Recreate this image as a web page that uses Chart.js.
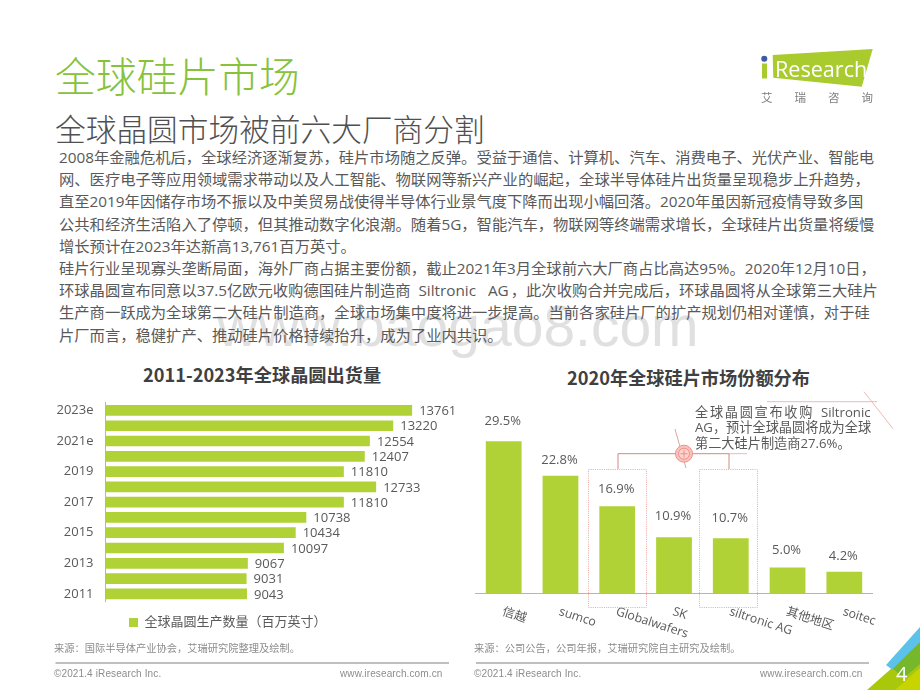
<!DOCTYPE html>
<html>
<head>
<meta charset="utf-8">
<title>全球硅片市场</title>
<script src="https://cdn.jsdelivr.net/npm/chart.js@4"></script>
<style>
  html, body { margin: 0; padding: 0; background: #fff; }
  body { width: 920px; height: 690px; position: relative; overflow: hidden;
         font-family: "Open Sans", "Noto Sans CJK SC", sans-serif; }
  .t { position: absolute; white-space: pre; }
  canvas, svg { position: absolute; }
  .foot { font: 10px "Liberation Sans", sans-serif; color: #8c8c8c; letter-spacing: .12px; top: 668px; }
  .src { font-size: 10.25px; color: #8c8c8c; top: 641px; line-height: 15px; }
  .ctitle { font: bold 18.2px "Noto Sans CJK SC", sans-serif; color: #404040; line-height: 24px; }
</style>
</head>
<body>
<div class="t" style="left:217px;top:281px;font:57px 'Liberation Sans',sans-serif;color:#e0e0e0;line-height:90px">www.baogao8.com</div>

<div class="t" style="left:55px;top:47px;font:300 40.8px/56px 'Noto Sans CJK SC',sans-serif;color:#86c23a">全球硅片市场</div>
<div class="t" style="left:55px;top:106px;font:300 30.7px/44px 'Noto Sans CJK SC',sans-serif;color:#505050">全球晶圆市场被前六大厂商分割</div>

<div class="t" style="left:59px;top:146px;font-size:15.3px;line-height:22.2px;color:#595959">2008年金融危机后，全球经济逐渐复苏，硅片市场随之反弹。受益于通信、计算机、汽车、消费电子、光伏产业、智能电
网、医疗电子等应用领域需求带动以及人工智能、物联网等新兴产业的崛起，全球半导体硅片出货量呈现稳步上升趋势，
直至2019年因储存市场不振以及中美贸易战使得半导体行业景气度下降而出现小幅回落。2020年虽因新冠疫情导致多国
公共和经济生活陷入了停顿，但其推动数字化浪潮。随着5G，智能汽车，物联网等终端需求增长，全球硅片出货量将缓慢
增长预计在2023年达新高13,761百万英寸。
硅片行业呈现寡头垄断局面，海外厂商占据主要份额，截止2021年3月全球前六大厂商占比高达95%。2020年12月10日，
环球晶圆宣布同意以37.5亿欧元收购德国硅片制造商  Siltronic   AG<span style="margin-right:2px"></span>，此次收购合并完成后，环球晶圆将从全球第三大硅片
生产商一跃成为全球第二大硅片制造商，全球市场集中度将进一步提高。当前各家硅片厂的扩产规划仍相对谨慎，对于硅
片厂而言，稳健扩产、推动硅片价格持续抬升，成为了业内共识。</div>

<div class="t ctitle" style="left:143px;top:362px">2011-2023年全球晶圆出货量</div>
<div class="t ctitle" style="left:567px;top:365px">2020年全球硅片市场份额分布</div>

<canvas id="shipChart" width="458" height="256" style="left:0;top:383px"></canvas>
<canvas id="shareChart" width="440" height="260" style="left:460px;top:400px"></canvas>

<svg width="920" height="690" style="left:0;top:0">
  <!-- callout decoration -->
  <g fill="none" stroke="#f0b9b3" stroke-width="1">
    <path d="M767 401.7H877M864 391.7L893 428.7"/>
    <path d="M729 453.7H747"/>
    <g stroke="#eda8a0" stroke-dasharray="1 1.2">
      <rect x="588.5" y="469.5" width="58" height="138"/>
      <rect x="699.5" y="469.5" width="58" height="138"/>
    </g>
  </g>
  <path d="M618 469V453.7H729V469" fill="none" stroke="#d08a80" stroke-width="1"/>
  <path d="M675 429L686 468" fill="none" stroke="#d9a89f" stroke-width="1"/>
  <circle cx="684" cy="453.7" r="8.5" fill="#f9c4be" stroke="#ee9088" stroke-width="1"/>
  <circle cx="684" cy="453.7" r="5.5" fill="#fbd3cf" stroke="#ee9088" stroke-width="1"/>
  <path d="M680.5 453.7H687.5M684 450V457.5" stroke="#ee9088" stroke-width="1"/>

  <!-- footer rules -->
  <path d="M55.5 663H449M476 663H869" stroke="#ababab" stroke-width="1.3"/>

  <!-- corner -->
  <polygon points="867,690 892,668 920,640 920,690" fill="#a9c80c"/>
  <polygon points="892,668 920,640 920,664 904,678" fill="#76b82a"/>
  <polygon points="895,690 920,668 920,690" fill="#c8d400"/>
  <polygon points="886,665 920,627 920,642 892,669.5" fill="#5cc2ea"/>

  <!-- logo -->
  <polygon points="772.7,55 872.7,49 861.7,86.7 773.3,77.7" fill="#a9cb2d"/>
  <circle cx="764.3" cy="58.7" r="3" fill="#3b5ba5"/>
  <rect x="762" y="63.5" width="5" height="15" fill="#a9cb2d"/>
</svg>

<div class="t" style="left:775px;top:54px;font:21.6px/30px 'Open Sans',sans-serif;color:#fff">Research</div>
<div class="t" style="left:761px;top:89px;font:11.5px/16px 'Noto Sans CJK SC',sans-serif;color:#7d7d7d;letter-spacing:22px">艾瑞咨询</div>

<div class="t" style="left:695px;top:405px;font-size:13.2px;line-height:15.3px;color:#595959"><span style="letter-spacing:1.7px">全球晶圆宣布收购</span>  Siltronic
AG，预计全球晶圆将成为全球
第二大硅片制造商27.6%。</div>

<div class="t src" style="left:54px">来源：国际半导体产业协会，艾瑞研究院整理及绘制。</div>
<div class="t src" style="left:474px">来源：公司公告，公司年报，艾瑞研究院自主研究及绘制。</div>

<div class="t foot" style="left:54px">©2021.4 iResearch Inc.</div>
<div class="t foot" style="left:340px">www.iresearch.com.cn</div>
<div class="t foot" style="left:474px">©2021.4 iResearch Inc.</div>
<div class="t foot" style="left:760px">www.iresearch.com.cn</div>
<div class="t" style="left:896px;top:660px;font:20px/28px 'Open Sans',sans-serif;color:#fff">4</div>

<script>
const years = ['2023e', '2022e', '2021e', '2020', '2019', '2018', '2017', '2016', '2015', '2014', '2013', '2012', '2011'];
const shipments = [13761, 13220, 12554, 12407, 11810, 12733, 11810, 10738, 10434, 10097, 9067, 9031, 9043];

const vendors = ['信越', 'sumco', 'Globalwafers', 'SK', 'siltronic AG', '其他地区', 'soitec'];
const shares = [29.5, 22.8, 16.9, 10.9, 10.7, 5.0, 4.2];
const shareLift = [20, 16, 17, 21, 20, 17, 15];

const barGreen = '#b0d236';
const textGrey = '#595959';
const cnFont = '"Open Sans", "Noto Sans CJK SC", sans-serif';

Chart.defaults.font.family = cnFont;
Chart.defaults.color = textGrey;

// value labels on the horizontal bars
const shipLabels = {
  id: 'shipLabels',
  afterDatasetsDraw(chart) {
    const ctx = chart.ctx;
    ctx.save();
    ctx.font = '13px ' + cnFont;
    ctx.fillStyle = textGrey;
    ctx.textBaseline = 'middle';
    chart.getDatasetMeta(0).data.forEach((bar, i) => {
      ctx.fillText(shipments[i], bar.x + 7, bar.y + 1);
    });
    ctx.restore();
  }
};

// percent labels plus the slanted category names
const shareLabels = {
  id: 'shareLabels',
  afterDatasetsDraw(chart) {
    const ctx = chart.ctx;
    const xScale = chart.scales.x;
    ctx.save();
    ctx.font = '13px ' + cnFont;
    ctx.fillStyle = textGrey;
    ctx.textBaseline = 'middle';
    ctx.textAlign = 'center';
    chart.getDatasetMeta(0).data.forEach((bar, i) => {
      ctx.fillText(shares[i].toFixed(1) + '%', bar.x - 1, bar.y - shareLift[i]);
    });
    ctx.textAlign = 'left';
    ctx.font = '12.3px ' + cnFont;
    vendors.forEach((name, i) => {
      ctx.save();
      ctx.translate(xScale.getPixelForTick(i) - 1, xScale.bottom + 18);
      ctx.rotate(18 * Math.PI / 180);
      ctx.fillText(name, 0, 0);
      ctx.restore();
    });
    ctx.restore();
  }
};

new Chart(document.getElementById('shipChart').getContext('2d'), {
  type: 'bar',
  data: {
    labels: years,
    datasets: [{
      label: '全球晶圆生产数量（百万英寸）',
      data: shipments,
      backgroundColor: barGreen,
      barPercentage: 0.7,
      categoryPercentage: 1
    }]
  },
  options: {
    indexAxis: 'y',
    responsive: false,
    animation: false,
    layout: { padding: { top: 8, right: 2.5, bottom: 0, left: 0 } },
    plugins: {
      tooltip: { enabled: false },
      legend: {
        position: 'bottom',
        labels: { boxWidth: 9, boxHeight: 9, padding: 14.5, font: { size: 13 }, color: textGrey }
      }
    },
    scales: {
      x: { min: 5000, max: 15000, display: false },
      y: {
        afterFit(scale) { scale.width = 105.5; },
        grid: { display: false, drawTicks: false },
        border: { color: '#b5b5b5' },
        ticks: {
          autoSkip: false,
          padding: 12,
          font: { size: 13 },
          color: textGrey,
          callback(value, index) { return index % 2 === 0 ? years[index] : ''; }
        }
      }
    }
  },
  plugins: [shipLabels]
});

new Chart(document.getElementById('shareChart').getContext('2d'), {
  type: 'bar',
  data: {
    labels: vendors,
    datasets: [{
      data: shares,
      backgroundColor: barGreen,
      barPercentage: 0.63,
      categoryPercentage: 1
    }]
  },
  options: {
    responsive: false,
    animation: false,
    layout: { padding: { top: 13, right: 27.3, bottom: 66.7, left: 15.3 } },
    plugins: { tooltip: { enabled: false }, legend: { display: false } },
    scales: {
      y: { min: 0, max: 35, display: false },
      x: {
        grid: { display: false, drawTicks: false },
        border: { color: '#b5b5b5' },
        ticks: { display: false }
      }
    }
  },
  plugins: [shareLabels]
});
</script>
</body>
</html>
